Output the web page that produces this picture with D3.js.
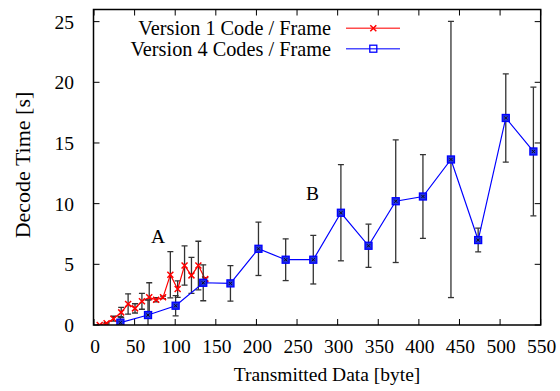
<!DOCTYPE html>
<html>
<head>
<meta charset="utf-8">
<script src="https://cdn.jsdelivr.net/npm/d3@7"></script>
<style>
  body { margin: 0; background: #fff; }
  text { font-family: "Liberation Serif", "Times New Roman", serif; }
</style>
</head>
<body>
<div id="chart"></div>
<script>
// Version 1: one code per frame
const v1X = [7, 15.5, 24, 33.5, 42, 50.5, 59, 68, 76.5, 85, 94, 103, 111.5, 120, 128.5, 137];
const v1Y = [0.0, 0.15, 0.52, 1.04, 1.73, 1.37, 1.95, 2.28, 2.08, 2.28, 4.14, 2.96, 4.9, 4.09, 4.9, 3.78];
const v1Err = [0.03, 0.05, 0.2, 0.42, 0.84, 0.38, 0.65, 1.2, 0.18, 0.1, 1.9, 0.68, 1.62, 1.48, 2.0, 0.13];

// Version 4: four codes per frame
const v4X = [32.5, 66.5, 100.5, 134.5, 168, 202.5, 236, 270, 304, 338, 371.5, 405, 439.5, 473, 507, 541];
const v4Y = [0.19, 0.82, 1.59, 3.48, 3.43, 6.28, 5.38, 5.38, 9.25, 6.53, 10.2, 10.59, 13.64, 7.0, 17.06, 14.3];
const v4Err = [0.49, 1.24, 0.83, 1.48, 1.47, 2.2, 1.72, 2.0, 3.96, 1.78, 5.05, 3.45, 11.38, 0.98, 3.63, 5.3];

const xTicks = [0, 50, 100, 150, 200, 250, 300, 350, 400, 450, 500, 550];
const yTicks = [0, 5, 10, 15, 20, 25];
const seriesNames = ["Version 1 Code / Frame", "Version 4 Codes / Frame"];

// annotations A and B, in data units
const notes = [{label: "A", x: 79, y: 7.3}, {label: "B", x: 269, y: 10.9}];

const width = 560, height = 391;
const margin = {top: 9.5, right: 19.3, bottom: 66, left: 93.5};

const svg = d3.select("#chart")
    .append("svg")
    .attr("width", width)
    .attr("height", height);

const xScale = d3.scaleLinear()
    .domain([0, 550])
    .range([94, width - margin.right]);

const yScale = d3.scaleLinear()
    .domain([0, 26])
    .range([height - margin.bottom, margin.top]);

const plotL = margin.left, plotR = width - margin.right;
const plotT = margin.top, plotB = height - margin.bottom;

svg.append("clipPath").attr("id", "clip")
    .append("rect")
    .attr("x", plotL).attr("y", plotT)
    .attr("width", plotR - plotL).attr("height", plotB - plotT);

// ticks (inward, all four sides)
const tickLen = 6;
const axisG = svg.append("g").attr("stroke", "#000").attr("stroke-width", 1);
xTicks.forEach(t => {
    const x = xScale(t);
    axisG.append("line").attr("x1", x).attr("x2", x).attr("y1", plotB).attr("y2", plotB - tickLen);
    axisG.append("line").attr("x1", x).attr("x2", x).attr("y1", plotT).attr("y2", plotT + tickLen);
});
yTicks.forEach(t => {
    const y = yScale(t);
    axisG.append("line").attr("x1", plotL).attr("x2", plotL + tickLen).attr("y1", y).attr("y2", y);
    axisG.append("line").attr("x1", plotR).attr("x2", plotR - tickLen).attr("y1", y).attr("y2", y);
});

// tick labels
svg.selectAll(".xlab")
    .data(xTicks)
    .enter().append("text")
    .attr("x", d => xScale(d) + 1)
    .attr("y", plotB + 28)
    .style("text-anchor", "middle")
    .style("font-size", "19.5px")
    .text(d => d);

svg.selectAll(".ylab")
    .data(yTicks)
    .enter().append("text")
    .attr("x", 74)
    .attr("y", d => yScale(d) + 7)
    .style("text-anchor", "end")
    .style("font-size", "19.5px")
    .text(d => d);

// axis titles
svg.append("text")
    .attr("x", 327)
    .attr("y", 381)
    .style("text-anchor", "middle")
    .style("font-size", "19.5px")
    .text("Transmitted Data [byte]");

svg.append("text")
    .attr("transform", "rotate(-90)")
    .attr("x", -165)
    .attr("y", 30)
    .style("text-anchor", "middle")
    .style("font-size", "22px")
    .text("Decode Time [s]");

// annotations
notes.forEach(n => {
    svg.append("text")
        .attr("x", xScale(n.x))
        .attr("y", yScale(n.y) + 7)
        .style("text-anchor", "middle")
        .style("font-size", "19.5px")
        .text(n.label);
});

const plot = svg.append("g").attr("clip-path", "url(#clip)");

function drawSeries(xs, ys, errs, color, marker) {
    const pts = xs.map((x, i) => ({x: x, y: ys[i], e: errs[i]}));

    // error bars
    const eb = plot.append("g").attr("stroke", "#333").attr("stroke-width", 1.3);
    pts.forEach(p => {
        const cx = xScale(p.x);
        const y1 = yScale(p.y - p.e), y2 = yScale(p.y + p.e);
        eb.append("line").attr("x1", cx).attr("x2", cx).attr("y1", y1).attr("y2", y2);
        eb.append("line").attr("x1", cx - 3).attr("x2", cx + 3).attr("y1", y1).attr("y2", y1);
        eb.append("line").attr("x1", cx - 3).attr("x2", cx + 3).attr("y1", y2).attr("y2", y2);
    });

    // line
    const line = d3.line().x(d => xScale(d.x)).y(d => yScale(d.y));
    plot.append("path")
        .datum(pts)
        .attr("d", line)
        .attr("fill", "none")
        .attr("stroke", color)
        .attr("stroke-width", 1.2);

    // markers
    pts.forEach(p => marker(plot, xScale(p.x), yScale(p.y), true));
}

function crossMark(g, x, y) {
    g.append("path")
        .attr("d", `M${x - 3},${y - 3}L${x + 3},${y + 3}M${x - 3},${y + 3}L${x + 3},${y - 3}`)
        .attr("stroke", "#f00")
        .attr("stroke-width", 1.5);
}

function squareMark(g, x, y, filled) {
    g.append("rect")
        .attr("x", x - 3.5).attr("y", y - 3.5)
        .attr("width", 7).attr("height", 7)
        .attr("fill", filled ? "#2233dd" : "none")
        .attr("stroke", "#00f")
        .attr("stroke-width", 1.3);
    if (filled) {
        g.append("path")
            .attr("d", `M${x - 1.5},${y - 1.5}L${x + 1.5},${y + 1.5}M${x - 1.5},${y + 1.5}L${x + 1.5},${y - 1.5}`)
            .attr("stroke", "#111")
            .attr("stroke-width", 1);
    }
}

drawSeries(v1X, v1Y, v1Err, "#f00", crossMark);
drawSeries(v4X, v4Y, v4Err, "#00f", squareMark);

// frame
svg.append("rect")
    .attr("x", plotL).attr("y", plotT)
    .attr("width", plotR - plotL).attr("height", plotB - plotT)
    .attr("fill", "none")
    .attr("stroke", "#000")
    .attr("stroke-width", 1.5);

// legend
const legendColors = ["#f00", "#00f"];
const legendMarks = [crossMark, squareMark];
const legend = svg.selectAll(".legend")
    .data(seriesNames)
    .enter().append("g")
    .attr("class", "legend")
    .attr("transform", (d, i) => "translate(0," + (28.3 + i * 20.4) + ")");

legend.append("text")
    .attr("x", 331)
    .attr("y", 7)
    .style("text-anchor", "end")
    .style("font-size", "20.3px")
    .text(d => d);

legend.append("line")
    .attr("x1", 346).attr("x2", 400)
    .attr("y1", 0).attr("y2", 0)
    .attr("stroke", (d, i) => legendColors[i])
    .attr("stroke-opacity", 0.7)
    .attr("stroke-width", 1.6);

legend.each(function(d, i) {
    legendMarks[i](d3.select(this), 373.3, 0, false);
});
</script>
</body>
</html>
